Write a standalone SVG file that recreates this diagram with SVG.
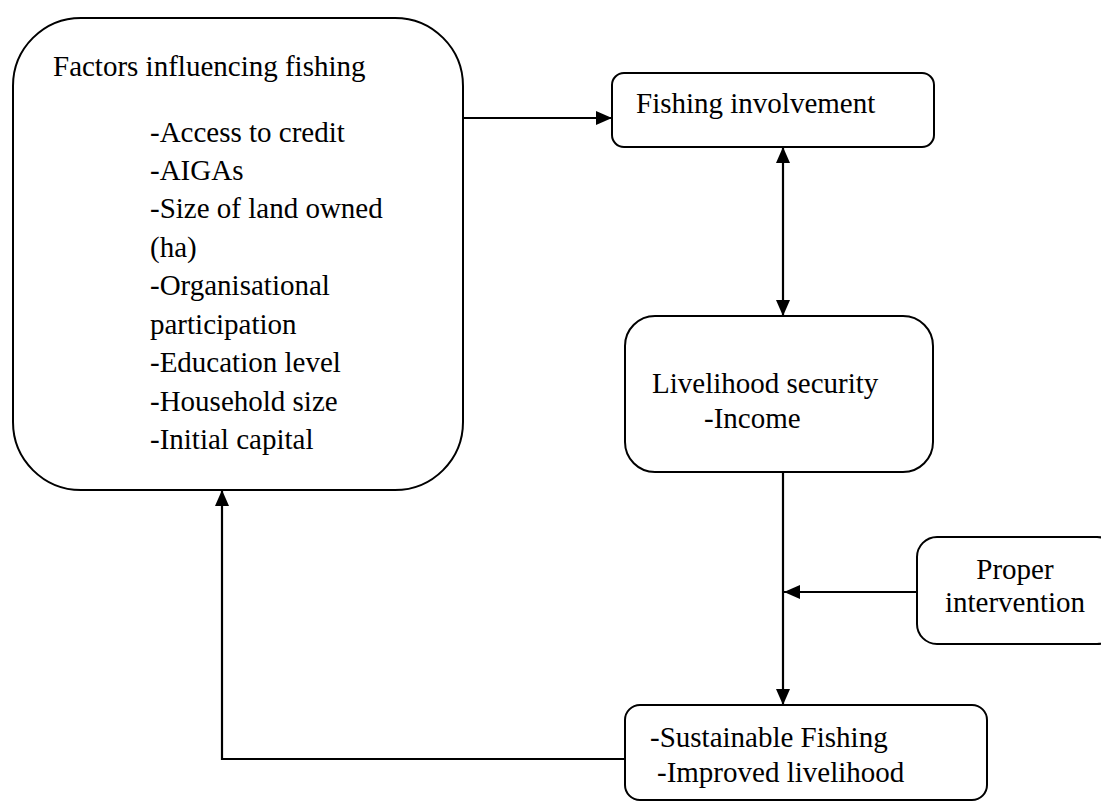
<svg xmlns="http://www.w3.org/2000/svg" width="1101" height="803" viewBox="0 0 1101 803">
<defs>
<style>
.box{fill:#fff;stroke:#000;stroke-width:2}
.t{font-family:"Times New Roman","Liberation Serif",Times,"DejaVu Serif",serif;font-size:29px;fill:#000}
.c{fill:none;stroke:#000;stroke-width:2.2}
</style>
<marker id="ah" viewBox="0 0 16 14" refX="16" refY="7" markerWidth="16" markerHeight="14" markerUnits="userSpaceOnUse" orient="auto-start-reverse">
<path d="M0,0 L16,7 L0,14 Z" fill="#000"/>
</marker>
</defs>
<rect width="1101" height="803" fill="#fff"/>
<g id="connectors">
<line class="c" x1="463" y1="118" x2="612" y2="118" marker-end="url(#ah)"/>
<line class="c" x1="783" y1="147" x2="783" y2="316" marker-start="url(#ah)" marker-end="url(#ah)"/>
<line class="c" x1="783" y1="472" x2="783" y2="705" marker-end="url(#ah)"/>
<line class="c" x1="917" y1="592" x2="784" y2="592" marker-end="url(#ah)"/>
<polyline class="c" points="625,759 222,759 222,490" marker-end="url(#ah)"/>
</g>
<g id="factors">
<rect class="box" x="13" y="18" width="450" height="472" rx="68" ry="68"/>
<text class="t" x="53" y="76">Factors influencing fishing</text>
<text class="t" x="150" y="142">-Access to credit</text>
<text class="t" x="150" y="180">-AIGAs</text>
<text class="t" x="150" y="218">-Size of land owned</text>
<text class="t" x="150" y="257">(ha)</text>
<text class="t" x="150" y="295">-Organisational</text>
<text class="t" x="150" y="334">participation</text>
<text class="t" x="150" y="372">-Education level</text>
<text class="t" x="150" y="411">-Household size</text>
<text class="t" x="150" y="449">-Initial capital</text>
</g>
<g id="fishing-involvement">
<rect class="box" x="612" y="73" width="322" height="74" rx="12" ry="12"/>
<text class="t" x="636" y="113">Fishing involvement</text>
</g>
<g id="livelihood-security">
<rect class="box" x="625" y="316" width="308" height="156" rx="30" ry="30"/>
<text class="t" x="652" y="393">Livelihood security</text>
<text class="t" x="704" y="428">-Income</text>
</g>
<g id="proper-intervention">
<rect class="box" x="917" y="537" width="200" height="107" rx="20" ry="20"/>
<text class="t" x="1015" y="579" text-anchor="middle">Proper</text>
<text class="t" x="1015" y="612" text-anchor="middle">intervention</text>
</g>
<g id="outcomes">
<rect class="box" x="625" y="705" width="362" height="95" rx="15" ry="15"/>
<text class="t" x="650" y="747">-Sustainable Fishing</text>
<text class="t" x="657" y="782">-Improved livelihood</text>
</g>
</svg>
